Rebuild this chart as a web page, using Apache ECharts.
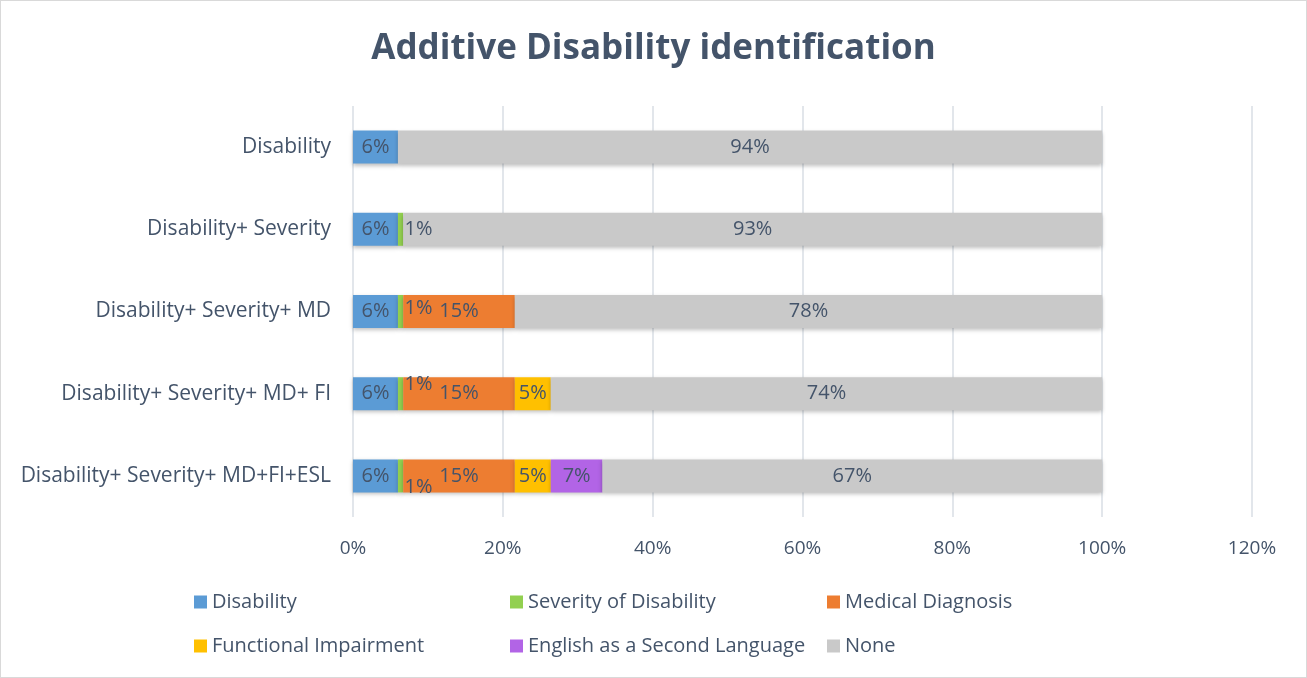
<!DOCTYPE html>
<html lang="en">
<head>
    <meta charset="UTF-8">
    <title>Additive Disability identification</title>
    <script src="https://cdn.jsdelivr.net/npm/echarts@6/dist/echarts.min.js" charset="utf-8"></script>
    <style>
        html, body {margin: 0; padding: 0; background: #fff;}
        #main {width: 1305px; height: 676px; border: 1px solid #D9D9D9;}
    </style>
</head>
<body>
<div id="main"></div>
<script>
    // data (percent)
    var categories = ['Disability', 'Disability+ Severity', 'Disability+ Severity+ MD',
        'Disability+ Severity+ MD+ FI', 'Disability+ Severity+ MD+FI+ESL'];
    var seriesNames = ['Disability', 'Severity of Disability', 'Medical Diagnosis',
        'Functional Impairment', 'English as a Second Language', 'None'];
    var disability = [6, 6, 6, 6, 6];
    var severity = [null, 0.7, 0.7, 0.7, 0.7];
    var medical = [null, null, 14.9, 14.9, 14.9];
    var functional = [null, null, null, 4.8, 4.8];
    var esl = [null, null, null, null, 6.9];
    var none = [94, 93.3, 78.4, 73.6, 66.7];
    var xTicks = [0, 20, 40, 60, 80, 100, 120];

    var fontFamily = '"Open Sans", sans-serif';
    var textColor = '#44546A';
    var colors = ['#5B9BD5', '#92D050', '#ED7D31', '#FFC000', '#B264E6', '#C9C9C9'];

    // the small 1% labels are shifted around like Excel does
    var severityLabelOffset = [null, [18, 0], [18, -3], [18, -9], [18, 11]];

    // legend item positions (3 columns x 2 rows)
    var legendLeft = [193, 509, 826, 193, 509, 826];
    var legendTop = [591, 591, 591, 635, 635, 635];

    function pct(p) {
        return Math.round(p.value) + '%';
    }

    function makeSeries(name, values, color, offsets) {
        return {
            name: name,
            type: 'bar',
            stack: 'total',
            barWidth: 33,
            data: values.map(function (v, i) {
                if (v === null) return '-';
                var item = {value: v};
                if (offsets && offsets[i]) item.label = {offset: offsets[i]};
                return item;
            }),
            itemStyle: {
                color: color,
                shadowColor: 'rgba(0,0,0,0.25)',
                shadowBlur: 4,
                shadowOffsetY: 2
            },
            label: {
                show: true,
                position: 'inside',
                formatter: pct,
                color: textColor,
                fontFamily: fontFamily,
                fontSize: 20
            }
        };
    }

    var legends = seriesNames.map(function (n, i) {
        return {
            data: [n],
            left: legendLeft[i],
            top: legendTop[i],
            padding: 0,
            itemWidth: 13,
            itemHeight: 13,
            icon: 'rect',
            textStyle: {color: textColor, fontFamily: fontFamily, fontSize: 20, padding: [0, 0, 0, 0]}
        };
    });

    var myChart = echarts.init(document.getElementById('main'));
    var option = {
        animation: false,
        title: {
            text: 'Additive Disability identification',
            left: 'center',
            top: 26,
            textStyle: {
                color: textColor,
                fontFamily: fontFamily,
                fontWeight: 'bold',
                fontSize: 35
            }
        },
        legend: legends,
        grid: {
            left: 352,
            right: 54,
            top: 105,
            bottom: 160
        },
        xAxis: {
            type: 'value',
            min: xTicks[0],
            max: xTicks[xTicks.length - 1],
            interval: 20,
            axisLine: {show: false},
            axisTick: {show: false},
            axisLabel: {
                formatter: '{value}%',
                color: textColor,
                fontFamily: fontFamily,
                fontSize: 19,
                margin: 22
            },
            splitLine: {lineStyle: {color: '#D9DEE5', width: 1.5}}
        },
        yAxis: {
            type: 'category',
            inverse: true,
            data: categories,
            axisLine: {show: false},
            axisTick: {show: false},
            axisLabel: {
                color: textColor,
                fontFamily: fontFamily,
                fontSize: 21,
                margin: 22
            }
        },
        series: [
            makeSeries(seriesNames[0], disability, colors[0]),
            makeSeries(seriesNames[1], severity, colors[1], severityLabelOffset),
            makeSeries(seriesNames[2], medical, colors[2]),
            makeSeries(seriesNames[3], functional, colors[3]),
            makeSeries(seriesNames[4], esl, colors[4]),
            makeSeries(seriesNames[5], none, colors[5])
        ]
    };

    myChart.setOption(option);
    window.addEventListener('resize', function () {
        myChart.resize();
    });
</script>
</body>
</html>
